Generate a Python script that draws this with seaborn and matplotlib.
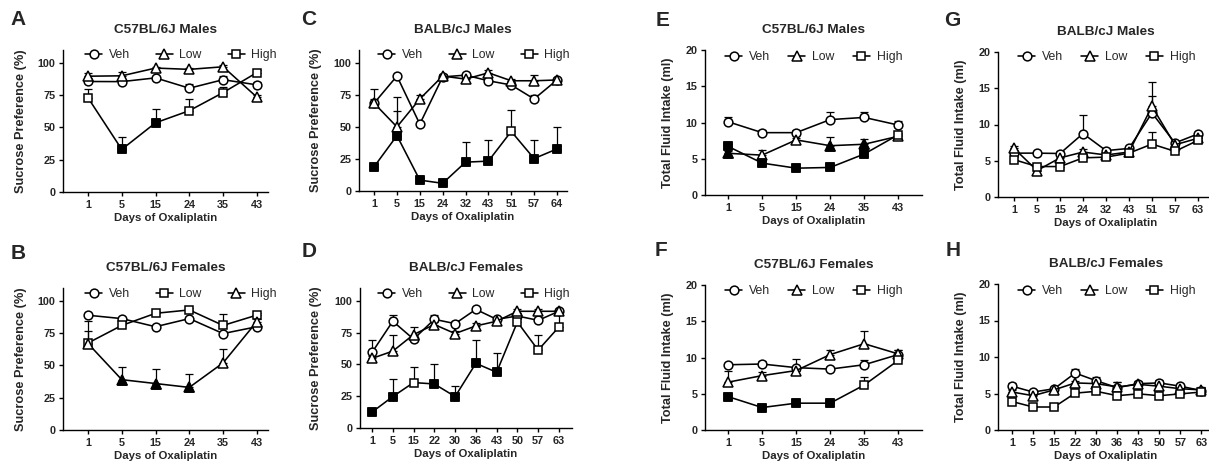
import matplotlib
matplotlib.use('Agg')
import matplotlib.pyplot as plt
import seaborn as sns
from matplotlib.lines import Line2D

sns.set_theme(style='ticks')
plt.rcParams['font.family'] = ['Liberation Sans', 'DejaVu Sans']

# ---------------- DATA ----------------
days_A = ['1', '5', '15', '24', '35', '43']
A_veh = [85.6, 85.5, 88.4, 80.4, 87.0, 83.0]
A_veh_err = [1.5, 1.5, 1.5, 3.5, 2.5, 2.5]
A_low = [89.7, 90.0, 96.0, 95.0, 97.0, 73.5]
A_low_err = [2.5, 3.0, 1.0, 1.0, 1.0, 2.0]
A_high = [73.0, 33.0, 53.6, 63.0, 77.0, 92.5]
A_high_err = [7.0, 9.5, 10.8, 9.0, 4.0, 2.0]
A_high_filled = [False, True, True, False, False, False]

days_B = ['1', '5', '15', '24', '35', '43']
B_veh = [88.9, 86.3, 80.0, 86.3, 74.7, 80.0]
B_veh_err = [1.0, 1.5, 1.5, 1.5, 1.5, 1.5]
B_low = [67.4, 81.0, 90.4, 93.0, 81.0, 89.0]
B_low_err = [9.6, 6.0, 2.0, 1.5, 8.5, 1.5]
B_high = [67.0, 39.0, 36.0, 33.0, 52.0, 84.0]
B_high_err = [17.6, 10.0, 11.0, 10.0, 10.5, 2.0]
B_high_filled = [False, True, True, True, False, False]

days_C = ['1', '5', '15', '24', '32', '43', '51', '57', '64']
C_veh = [68.5, 89.7, 52.2, 89.0, 90.4, 86.0, 82.7, 71.8, 86.6]
C_veh_err = [11.0, 1.5, 2.0, 1.5, 1.5, 2.0, 2.0, 3.0, 1.5]
C_low = [68.5, 50.0, 71.8, 89.7, 87.3, 92.2, 86.0, 86.0, 86.6]
C_low_err = [3.0, 23.6, 3.0, 1.5, 1.5, 2.5, 1.5, 4.4, 1.5]
C_high = [18.9, 43.2, 8.5, 6.0, 22.5, 23.3, 46.5, 25.3, 32.8]
C_high_err = [2.0, 19.6, 1.5, 1.0, 15.5, 16.7, 16.8, 14.7, 16.8]
C_high_filled = [True, True, True, True, True, True, False, True, True]

days_D = ['1', '5', '15', '22', '30', '36', '43', '50', '57', '63']
D_veh = [59.4, 83.9, 69.8, 85.4, 82.0, 93.2, 85.4, 88.0, 84.6, 91.7]
D_veh_err = [10.1, 4.6, 2.0, 3.6, 2.0, 2.0, 1.5, 2.0, 2.0, 1.5]
D_low = [54.7, 60.4, 73.4, 81.3, 74.2, 80.2, 83.9, 91.7, 91.7, 91.7]
D_low_err = [2.0, 13.0, 6.0, 2.0, 2.0, 2.0, 2.0, 2.0, 2.1, 2.0]
D_high = [12.5, 24.7, 35.7, 34.6, 24.7, 50.8, 43.8, 83.3, 61.2, 79.4]
D_high_err = [1.0, 13.6, 12.5, 15.7, 8.6, 18.7, 15.3, 3.0, 12.2, 10.0]
D_high_filled = [True, True, False, True, True, True, True, False, False, False]

days_E = ['1', '5', '15', '24', '35', '43']
E_veh = [10.1, 8.6, 8.6, 10.4, 10.7, 9.65]
E_veh_err = [0.6, 0.3, 0.3, 1.0, 0.7, 0.6]
E_low = [5.75, 5.5, 7.6, 6.8, 7.0, 8.1]
E_low_err = [0.3, 0.7, 0.3, 1.25, 0.7, 0.3]
E_low_filled = [True, False, False, True, True, False]
E_high = [6.7, 4.4, 3.7, 3.8, 5.65, 8.3]
E_high_err = [0.3, 0.3, 0.2, 0.2, 0.3, 0.3]
E_high_filled = [True, True, True, True, True, False]

days_F = ['1', '5', '15', '24', '35', '43']
F_veh = [9.0, 9.1, 8.6, 8.4, 9.0, 10.4]
F_veh_err = [0.3, 0.4, 1.2, 0.3, 0.6, 0.6]
F_low = [6.6, 7.5, 8.2, 10.4, 11.9, 10.5]
F_low_err = [1.5, 0.5, 0.4, 0.6, 1.8, 0.5]
F_high = [4.6, 3.1, 3.7, 3.7, 6.2, 9.6]
F_high_err = [0.2, 0.2, 0.2, 0.2, 1.15, 0.3]
F_high_filled = [True, True, True, True, False, False]

days_G = ['1', '5', '15', '24', '32', '43', '51', '57', '63']
G_veh = [6.05, 6.05, 6.0, 8.75, 6.4, 6.7, 11.6, 7.45, 8.7]
G_veh_err = [0.3, 0.3, 0.3, 2.5, 0.3, 0.3, 2.4, 0.3, 0.3]
G_low = [6.7, 3.65, 5.4, 6.2, 5.8, 6.2, 12.5, 7.2, 8.1]
G_low_err = [0.3, 0.4, 0.4, 0.4, 0.3, 0.3, 3.3, 0.3, 0.3]
G_high = [5.15, 4.2, 4.2, 5.4, 5.5, 6.05, 7.3, 6.3, 7.8]
G_high_err = [0.3, 0.3, 0.3, 0.3, 0.3, 0.3, 1.7, 0.3, 0.3]

days_H = ['1', '5', '15', '22', '30', '36', '43', '50', '57', '63']
H_veh = [6.0, 5.2, 5.65, 7.8, 6.75, 5.8, 6.35, 6.45, 6.0, 5.4]
H_veh_err = [0.4, 0.3, 0.3, 0.6, 0.55, 0.8, 0.3, 0.45, 0.3, 0.3]
H_low = [5.2, 4.7, 5.5, 6.45, 6.35, 5.9, 6.25, 6.0, 5.65, 5.5]
H_low_err = [0.3, 0.3, 0.3, 0.3, 0.3, 0.7, 0.3, 0.3, 0.3, 0.4]
H_high = [3.9, 3.15, 3.15, 5.05, 5.3, 4.7, 4.95, 4.7, 4.95, 5.2]
H_high_err = [0.3, 0.2, 0.2, 0.3, 0.3, 0.3, 0.3, 0.3, 0.3, 0.3]

group_labels = ['Veh', 'Low', 'High']
titles = {
    'A': 'C57BL/6J Males', 'B': 'C57BL/6J Females',
    'C': 'BALB/cJ Males', 'D': 'BALB/cJ Females',
    'E': 'C57BL/6J Males', 'F': 'C57BL/6J Females',
    'G': 'BALB/cJ Males', 'H': 'BALB/cJ Females',
}
sp_label = 'Sucrose Preference (%)'
fi_label = 'Total Fluid Intake (ml)'
x_label = 'Days of Oxaliplatin'

# ---------------- LAYOUT ----------------
W, H = 1209, 468
fig = plt.figure(figsize=(W / 100, H / 100), dpi=100)

def px_axes(l, r, t, b):
    return fig.add_axes([l / W, 1 - b / H, (r - l) / W, (b - t) / H])

MS = {'o': 6.3, '^': 6.6, 's': 6.0}
LW = 1.15

def draw_series(ax, days, vals, errs, marker, filled=None):
    pos = list(range(len(days)))
    ax.errorbar(pos, vals, yerr=[[0] * len(errs), errs], fmt='none',
                ecolor='black', elinewidth=0.9, capsize=2.8, capthick=0.9,
                zorder=1.5, clip_on=False)
    sns.lineplot(x=pos, y=vals, ax=ax, color='black', linewidth=LW,
                 marker=marker, markersize=MS[marker], markerfacecolor='white',
                 markeredgecolor='black', markeredgewidth=1.1, sort=False,
                 legend=False, clip_on=False, zorder=2.5)
    if filled is not None:
        fx = [p for p, f in zip(pos, filled) if f]
        fy = [v for v, f in zip(vals, filled) if f]
        if fx:
            sns.scatterplot(x=fx, y=fy, ax=ax, marker=marker, color='black',
                            edgecolor='black', s=MS[marker] ** 2, linewidth=1.1,
                            legend=False, zorder=3, clip_on=False)

def style_axes(ax, days, xlim, ylim, yticks, ylabel, title, ylab_px, l, r):
    ax.set_xlim(*xlim)
    ax.set_ylim(*ylim)
    ax.set_xticks(range(len(days)))
    ax.set_xticklabels(days)
    ax.set_yticks(yticks)
    ax.set_yticklabels([str(v) for v in yticks])
    for lab in ax.get_xticklabels() + ax.get_yticklabels():
        lab.set_fontweight('bold')
        lab.set_fontsize(7.8)
    ax.tick_params(axis='both', length=3, width=1.0, pad=2.5, color='black')
    for s in ['left', 'bottom']:
        ax.spines[s].set_linewidth(1.0)
        ax.spines[s].set_color('black')
    sns.despine(ax=ax)
    ax.set_xlabel(x_label, fontsize=8.2, fontweight='bold', labelpad=2.5)
    ax.set_ylabel(ylabel, fontsize=9.2, fontweight='bold')
    ax.yaxis.set_label_coords((ylab_px - l) / (r - l), 0.5)
    ax.set_title(title, fontsize=9.7, fontweight='bold', pad=12)
    ax.patch.set_alpha(0)

def add_legend(ax, markers, xl, yc, cs):
    handles = [Line2D([0], [0], color='black', lw=LW, marker=m,
                      markersize=MS[m], markerfacecolor='white',
                      markeredgecolor='black', markeredgewidth=1.1)
               for m in markers]
    ax.legend(handles, group_labels, loc='center left',
              bbox_to_anchor=(xl / W, 1 - yc / H), bbox_transform=fig.transFigure,
              ncol=3, frameon=False, fontsize=8.8, handlelength=1.4,
              handletextpad=0.55, columnspacing=cs, borderpad=0, borderaxespad=0)

panels = [
    # key, box(l,r,t,b), days, series, xlim, ylim, yticks, ylabel, ylab_px, legend(x,y,cs), letter(x,y)
    ('A', (63, 268, 50, 192), days_A,
     [(A_veh, A_veh_err, 'o', None), (A_low, A_low_err, '^', None), (A_high, A_high_err, 's', A_high_filled)],
     (-0.74, 5.33), (0, 110), [0, 25, 50, 75, 100], sp_label, 27, (85, 55, 2.1), (10, 25)),
    ('B', (63, 268, 288, 430), days_B,
     [(B_veh, B_veh_err, 'o', None), (B_low, B_low_err, 's', None), (B_high, B_high_err, '^', B_high_filled)],
     (-0.74, 5.33), (0, 110), [0, 25, 50, 75, 100], sp_label, 27, (85, 294, 2.1), (11, 259)),
    ('C', (359, 567, 50, 191), days_C,
     [(C_veh, C_veh_err, 'o', None), (C_low, C_low_err, '^', None), (C_high, C_high_err, 's', C_high_filled)],
     (-0.66, 8.44), (0, 110), [0, 25, 50, 75, 100], sp_label, 322, (378, 55, 2.1), (301, 25)),
    ('D', (360, 572, 288, 428), days_D,
     [(D_veh, D_veh_err, 'o', None), (D_low, D_low_err, '^', None), (D_high, D_high_err, 's', D_high_filled)],
     (-0.58, 9.63), (0, 110), [0, 25, 50, 75, 100], sp_label, 322, (378, 294, 2.1), (302, 257)),
    ('E', (705, 922, 50, 195), days_E,
     [(E_veh, E_veh_err, 'o', None), (E_low, E_low_err, '^', E_low_filled), (E_high, E_high_err, 's', E_high_filled)],
     (-0.68, 5.7), (0, 20), [0, 5, 10, 15, 20], fi_label, 674, (725, 57, 1.5), (656, 26)),
    ('F', (705, 922, 285, 430), days_F,
     [(F_veh, F_veh_err, 'o', None), (F_low, F_low_err, '^', None), (F_high, F_high_err, 's', F_high_filled)],
     (-0.68, 5.7), (0, 20), [0, 5, 10, 15, 20], fi_label, 674, (725, 291, 1.5), (655, 256)),
    ('G', (998, 1214, 52, 197), days_G,
     [(G_veh, G_veh_err, 'o', None), (G_low, G_low_err, '^', None), (G_high, G_high_err, 's', None)],
     (-0.7, 8.7), (0, 20), [0, 5, 10, 15, 20], fi_label, 967, (1018, 57, 1.5), (944, 26)),
    ('H', (998, 1214, 284, 430), days_H,
     [(H_veh, H_veh_err, 'o', None), (H_low, H_low_err, '^', None), (H_high, H_high_err, 's', None)],
     (-0.67, 9.6), (0, 20), [0, 5, 10, 15, 20], fi_label, 967, (1018, 291, 1.5), (946, 256)),
]

for key, box, days, series, xlim, ylim, yticks, ylabel, ylab_px, leg, letter in panels:
    l, r, t, b = box
    ax = px_axes(l, r, t, b)
    for vals, errs, m, filled in series:
        draw_series(ax, days, vals, errs, m, filled)
    style_axes(ax, days, xlim, ylim, yticks, ylabel, titles[key], ylab_px, l, r)
    add_legend(ax, [s[2] for s in series], leg[0], leg[1], leg[2])
    fig.text(letter[0] / W, 1 - letter[1] / H, key, fontsize=15,
             fontweight='bold', ha='left', va='baseline')

fig.savefig('out.png', dpi=100, facecolor='white')
